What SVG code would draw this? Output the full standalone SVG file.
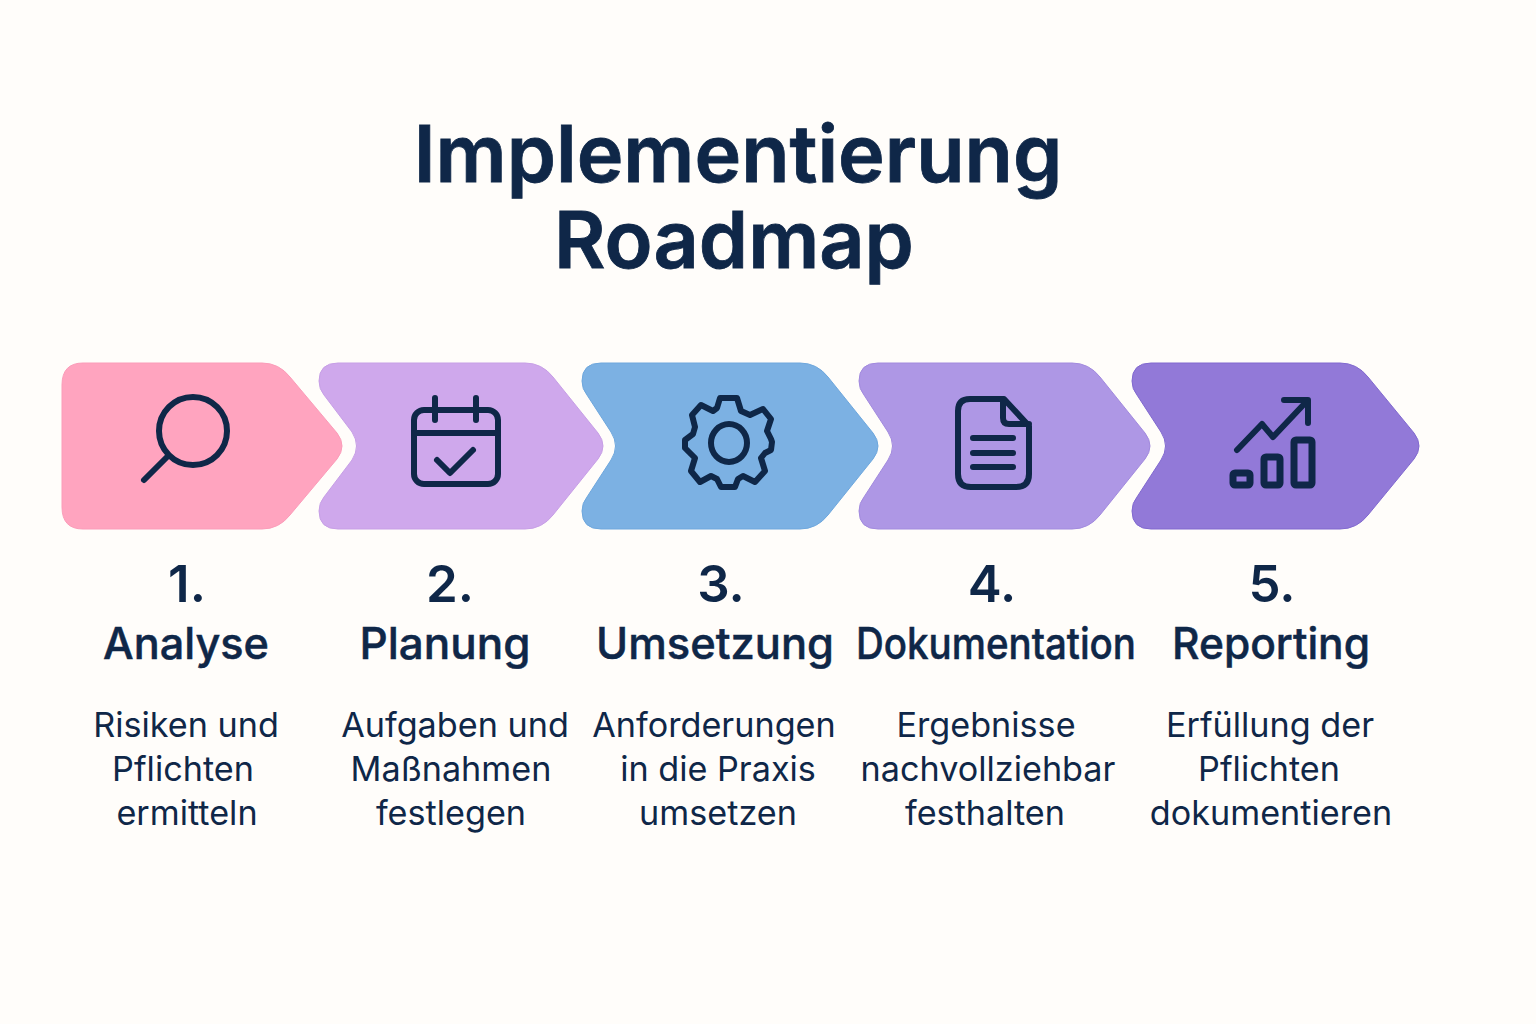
<svg xmlns="http://www.w3.org/2000/svg" width="1536" height="1024" viewBox="0 0 1536 1024">
<style>
text{font-family:Inter,"Liberation Sans",sans-serif;fill:#0f2748;text-anchor:middle}
.t{font-size:79px;font-weight:600;stroke:#0f2748;stroke-width:.8}
.n{font-size:51px;font-weight:600}
.h{font-size:44px;font-weight:500;stroke:#0f2748;stroke-width:.5}
.d{font-size:34.200px;font-weight:400}
.i{fill:none;stroke:#0f2748;stroke-width:6;stroke-linecap:round;stroke-linejoin:round}
.b{stroke-width:7}
</style>
<rect width="1536" height="1024" fill="#fffdfa"/>
<g id="title"><text class="t" x="738" y="182">Implementierung</text><text class="t" x="734" y="268">Roadmap</text></g>
<g id="step1">
<path d="M83 363H262Q279 363 290 377L337 433Q347 446 337 459L290 515Q279 529 262 529H83Q62 529 62 507V385Q62 363 83 363Z" fill="#ffa4bf" stroke="#fb9cb9"/>
<circle class="i" cx="193" cy="431" r="34"/><path class="i" d="M168 456L144 480"/>
<text class="n" x="187" y="602">1.</text><text class="h" x="186" y="659" textLength="166" lengthAdjust="spacingAndGlyphs">Analyse</text>
<text class="d" x="186" y="737">Risiken und</text><text class="d" x="183" y="781">Pflichten</text><text class="d" x="187" y="825">ermitteln</text>
</g>
<g id="step2">
<path d="M338 363H525Q542 363 553 377L598 433Q608 446 598 459L553 515Q542 529 525 529H338Q319 529 319 511Q319 503 324 497L352 460Q361 446 352 432L324 395Q319 389 319 381Q319 363 338 363Z" fill="#cfa8ec" stroke="#c79fe6"/>
<rect class="i" x="414" y="410" width="84" height="74" rx="10"/><path class="i" d="M414 433H498M435 398V420M476 398V420M437 460L450 473L473 450"/>
<text class="n" x="450" y="602">2.</text><text class="h" x="445" y="659" textLength="171" lengthAdjust="spacingAndGlyphs">Planung</text>
<text class="d" x="455" y="737">Aufgaben und</text><text class="d" x="451" y="781">Maßnahmen</text><text class="d" x="451" y="825">festlegen</text>
</g>
<g id="step3">
<path d="M601 363H800Q817 363 828 377L873 433Q883 446 873 459L828 515Q817 529 800 529H601Q582 529 582 511Q582 503 587 497L611 460Q620 446 611 432L587 395Q582 389 582 381Q582 363 601 363Z" fill="#7cb1e3" stroke="#6ea7dd"/>
<path class="i" d="M720 398H737L741 411L750 415L763 409L771 419L767 431L771 439L772 442L771 450L765 453L761 458L765 471L755 482L743 476L738 479L735 487H721L717 479L711 476L700 482L691 471L695 458L688 451L685 448V440L693 434L695 427L692 415L701 405L713 411L717 408Z"/>
<ellipse class="i" cx="729" cy="443" rx="18" ry="19"/>
<text class="n" x="721" y="602">3.</text><text class="h" x="715" y="659" textLength="238" lengthAdjust="spacingAndGlyphs">Umsetzung</text>
<text class="d" x="714" y="737">Anforderungen</text><text class="d" x="718" y="781">in die Praxis</text><text class="d" x="718" y="825">umsetzen</text>
</g>
<g id="step4">
<path d="M878 363H1072Q1089 363 1100 377L1145 433Q1155 446 1145 459L1100 515Q1089 529 1072 529H878Q859 529 859 511Q859 503 864 497L888 460Q897 446 888 432L864 395Q859 389 859 381Q859 363 878 363Z" fill="#ae97e5" stroke="#a28ade"/>
<path class="i" d="M970 399H1004L1029 426V474Q1029 487 1016 487H971Q958 487 958 474V411Q958 399 970 399ZM1003 399V418Q1003 424 1009 424H1029M973 438H1013M973 453H1013M973 467H1013" />
<text class="n" x="992" y="602">4.</text><text class="h" x="996" y="659" textLength="280" lengthAdjust="spacingAndGlyphs">Dokumentation</text>
<text class="d" x="986" y="737">Ergebnisse</text><text class="d" x="988" y="781">nachvollziehbar</text><text class="d" x="985" y="825">festhalten</text>
</g>
<g id="step5">
<path d="M1151 363H1340Q1357 363 1368 377L1414 433Q1424 446 1414 459L1368 515Q1357 529 1340 529H1151Q1132 529 1132 511Q1132 503 1137 497L1161 460Q1170 446 1161 432L1137 395Q1132 389 1132 381Q1132 363 1151 363Z" fill="#9279d8" stroke="#8169cf"/>
<path class="i" d="M1237 450L1262 424L1273 437L1307 401M1284 400H1308V423"/>
<rect class="i b" x="1233" y="473" width="17" height="12" rx="2"/><rect class="i b" x="1264" y="457" width="16" height="28" rx="2"/><rect class="i b" x="1294" y="440" width="18" height="45" rx="2"/>
<text class="n" x="1272" y="602">5.</text><text class="h" x="1271" y="659" textLength="198" lengthAdjust="spacingAndGlyphs">Reporting</text>
<text class="d" x="1270" y="737">Erfüllung der</text><text class="d" x="1269" y="781">Pflichten</text><text class="d" x="1271" y="825">dokumentieren</text>
</g>
</svg>
